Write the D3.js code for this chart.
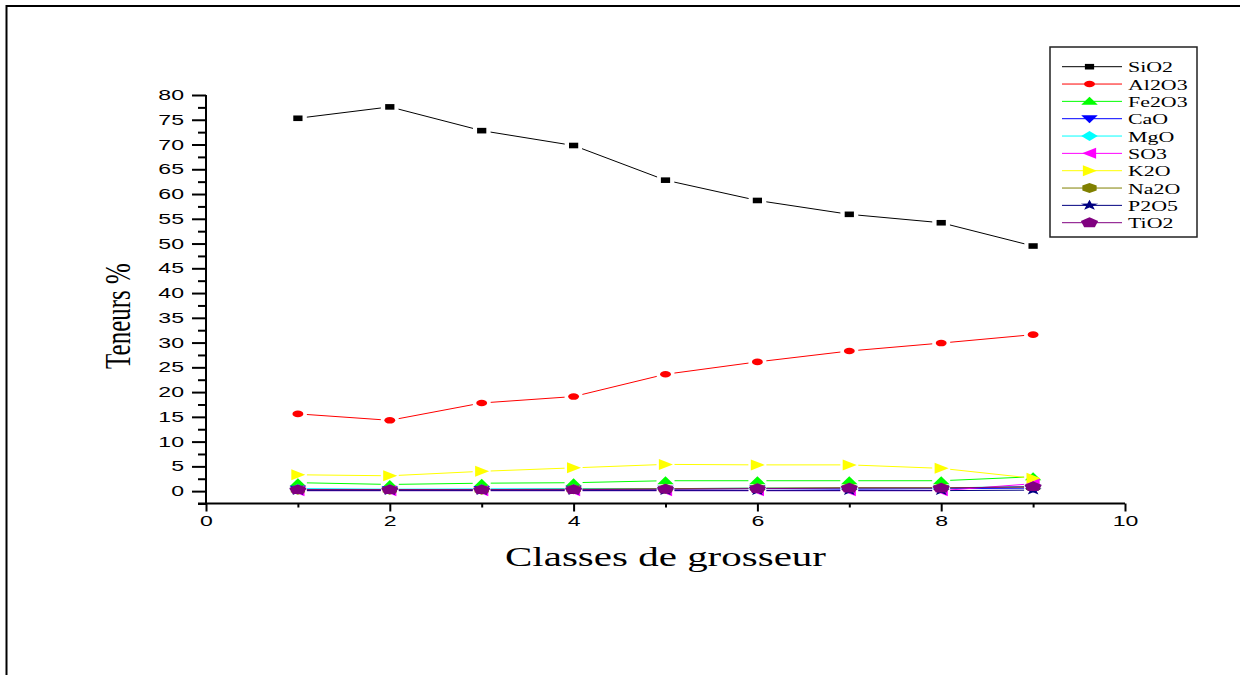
<!DOCTYPE html>
<html>
<head>
<meta charset="utf-8">
<script src="https://cdn.jsdelivr.net/npm/d3@7"></script>
<style>
  html, body { margin: 0; padding: 0; background: #fff; }
  svg { display: block; }
</style>
</head>
<body>
<svg id="chart" width="1245" height="675"></svg>
<script>
// Grain-size classes (x) and oxide contents in % (y)
const classes = [1, 2, 3, 4, 5, 6, 7, 8, 9];
const seriesNames = ["SiO2", "Al2O3", "Fe2O3", "CaO", "MgO", "SO3", "K2O", "Na2O", "P2O5", "TiO2"];
const SiO2  = [75.3, 77.6, 72.8, 69.8, 62.8, 58.7, 55.9, 54.2, 49.5];
const Al2O3 = [15.6, 14.3, 17.8, 19.1, 23.6, 26.1, 28.3, 29.9, 31.6];
const Fe2O3 = [1.7, 1.35, 1.6, 1.7, 2.1, 2.1, 2.1, 2.1, 2.9];
const CaO   = [0.4, 0.3, 0.35, 0.4, 0.4, 0.5, 0.4, 0.5, 0.6];
const MgO   = [0.5, 0.4, 0.45, 0.5, 0.5, 0.6, 0.6, 0.6, 1.0];
const SO3   = [0.1, 0.1, 0.1, 0.1, 0.1, 0.1, 0.1, 0.1, 1.5];
const K2O   = [3.3, 3.1, 4.0, 4.7, 5.4, 5.3, 5.3, 4.6, 2.6];
const Na2O  = [0.3, 0.3, 0.3, 0.4, 0.5, 0.6, 0.7, 0.7, 0.8];
const P2O5  = [0.1, 0.1, 0.1, 0.1, 0.1, 0.1, 0.1, 0.1, 0.2];
const TiO2  = [0.3, 0.3, 0.3, 0.3, 0.4, 0.5, 0.6, 0.6, 0.9];
const xTickValues = [0, 2, 4, 6, 8, 10];
const yTickValues = [0, 5, 10, 15, 20, 25, 30, 35, 40, 45, 50, 55, 60, 65, 70, 75, 80];
const xTitle = "Classes de grosseur";
const yTitle = "Teneurs %";

const seriesValues = [SiO2, Al2O3, Fe2O3, CaO, MgO, SO3, K2O, Na2O, P2O5, TiO2];
const colors = ["#000000", "#ff0000", "#00ff00", "#0000ff", "#00ffff",
                "#ff00ff", "#ffff00", "#808000", "#000080", "#800080"];

// marker outlines (before horizontal stretch)
function poly(pts) { return "M" + pts.map(p => p.join(",")).join("L") + "Z"; }
function regular(n, r, start) {
  const pts = [];
  for (let k = 0; k < n; k++) {
    const a = start + k * 2 * Math.PI / n;
    pts.push([r * Math.cos(a), r * Math.sin(a)]);
  }
  return poly(pts);
}
function star(ro, ri) {
  const pts = [];
  for (let k = 0; k < 10; k++) {
    const r = k % 2 ? ri : ro;
    const a = -Math.PI / 2 + k * Math.PI / 5;
    pts.push([r * Math.cos(a), r * Math.sin(a)]);
  }
  return poly(pts);
}
const shapes = [
  poly([[-2.8, -2.8], [2.8, -2.8], [2.8, 2.8], [-2.8, 2.8]]),
  "M3.3,0A3.3,3.3 0 1,1 -3.3,0A3.3,3.3 0 1,1 3.3,0Z",
  poly([[0, -4.5], [5, 3.5], [-5, 3.5]]),
  poly([[0, 4.5], [5, -3.5], [-5, -3.5]]),
  poly([[0, -5], [5, 0], [0, 5], [-5, 0]]),
  poly([[-4.5, 0], [4, -5.5], [4, 5.5]]),
  poly([[4.5, 0], [-4, -5.5], [-4, 5.5]]),
  regular(6, 5, -Math.PI / 2),
  star(5.5, 2.2),
  regular(5, 5.5, -Math.PI / 2)
];
const stretch = 1.65;

const svg = d3.select("#chart");

// page frame
svg.append("path")
  .attr("d", "M6.5,675V6H1240")
  .attr("fill", "none").attr("stroke", "#000").attr("stroke-width", 2);

const x = d3.scaleLinear().domain([0, 10]).range([206, 1125]);
const y = d3.scaleLinear().domain([-2.5, 80]).range([503.5, 95]);

// y axis: major every 5, minor every 2.5
const yMinor = d3.range(-2.5, 80.01, 2.5).filter(v => !yTickValues.includes(v));
svg.append("g").attr("transform", "translate(206,0)")
  .call(d3.axisLeft(y).tickValues(yMinor).tickSize(8).tickFormat(""))
  .call(g => g.select(".domain").remove());
const yAx = svg.append("g").attr("transform", "translate(206,0)")
  .call(d3.axisLeft(y).tickValues(yTickValues).tickSize(14).tickPadding(8).tickFormat(d3.format("d")));
yAx.select(".domain").attr("d", `M0,${y(-2.5)}V${y(80)}`);

// x axis: major every 2, minor at odd classes
const xMinor = [1, 3, 5, 7, 9];
svg.append("g").attr("transform", "translate(0,503.5)")
  .call(d3.axisBottom(x).tickValues(xMinor).tickSize(4).tickFormat(""))
  .call(g => g.select(".domain").remove());
const xAx = svg.append("g").attr("transform", "translate(0,503.5)")
  .call(d3.axisBottom(x).tickValues(xTickValues).tickSize(8).tickPadding(5).tickFormat(d3.format("d")));
xAx.select(".domain").attr("d", `M198,0H${x(10)}`);

svg.selectAll(".domain, .tick line").attr("stroke", "#000").attr("stroke-width", 2);
svg.selectAll(".tick text")
  .attr("font-family", "'Liberation Sans', Arial, sans-serif")
  .attr("font-size", 14)
  .attr("fill", "#000");
// widen the tick labels horizontally
yAx.selectAll(".tick text").each(function () {
  const t = d3.select(this);
  t.attr("x", -22 / stretch).attr("transform", `scale(${stretch},1)`);
});
xAx.selectAll(".tick text").each(function () {
  const t = d3.select(this);
  t.attr("transform", `scale(${stretch},1)`);
});

// series: thin lines broken near each marker, then markers on top
const gap = 9;
const plot = svg.append("g");
seriesValues.forEach((vals, si) => {
  const pts = classes.map((c, i) => [x(c), y(vals[i])]);
  const segs = [];
  for (let i = 0; i < pts.length - 1; i++) {
    const [x0, y0] = pts[i], [x1, y1] = pts[i + 1];
    const len = Math.hypot(x1 - x0, y1 - y0);
    if (len <= 2 * gap) continue;
    const ux = (x1 - x0) / len, uy = (y1 - y0) / len;
    segs.push([[x0 + ux * gap, y0 + uy * gap], [x1 - ux * gap, y1 - uy * gap]]);
  }
  plot.append("g").selectAll("path").data(segs).join("path")
    .attr("d", d => d3.line()(d))
    .attr("fill", "none").attr("stroke", colors[si]).attr("stroke-width", 1);
});
seriesValues.forEach((vals, si) => {
  plot.append("g").selectAll("path").data(classes.map((c, i) => [x(c), y(vals[i])])).join("path")
    .attr("d", shapes[si])
    .attr("transform", d => `translate(${d[0]},${d[1]}) scale(${stretch},1)`)
    .attr("fill", colors[si]);
});

// axis titles
svg.append("text")
  .attr("x", x(5)).attr("y", 566)
  .attr("text-anchor", "middle")
  .attr("font-family", "'Liberation Serif', 'Times New Roman', serif")
  .attr("font-size", 27)
  .attr("textLength", 321).attr("lengthAdjust", "spacingAndGlyphs")
  .text(xTitle);
svg.append("text")
  .attr("transform", `translate(130,316) scale(1.45,1) rotate(-90)`)
  .attr("text-anchor", "middle")
  .attr("font-family", "'Liberation Serif', 'Times New Roman', serif")
  .attr("font-size", 25)
  .text(yTitle);

// legend
const leg = svg.append("g");
leg.append("rect")
  .attr("x", 1050).attr("y", 47).attr("width", 147).attr("height", 190)
  .attr("fill", "#fff").attr("stroke", "#222").attr("stroke-width", 1.5);
const rowY = d3.scaleLinear().domain([0, 9]).range([66.7, 222.7]);
seriesNames.forEach((name, i) => {
  const cy = rowY(i);
  leg.append("line")
    .attr("x1", 1062).attr("x2", 1122).attr("y1", cy).attr("y2", cy)
    .attr("stroke", colors[i]).attr("stroke-width", 1);
  leg.append("path")
    .attr("d", shapes[i])
    .attr("transform", `translate(1089.5,${cy}) scale(${stretch},1)`)
    .attr("fill", colors[i]);
  leg.append("text")
    .attr("transform", `translate(1128,${cy + 5.6}) scale(1.5,1)`)
    .attr("font-family", "'Liberation Serif', 'Times New Roman', serif")
    .attr("font-size", 14.6)
    .attr("fill", "#000")
    .text(name);
});
</script>
</body>
</html>
